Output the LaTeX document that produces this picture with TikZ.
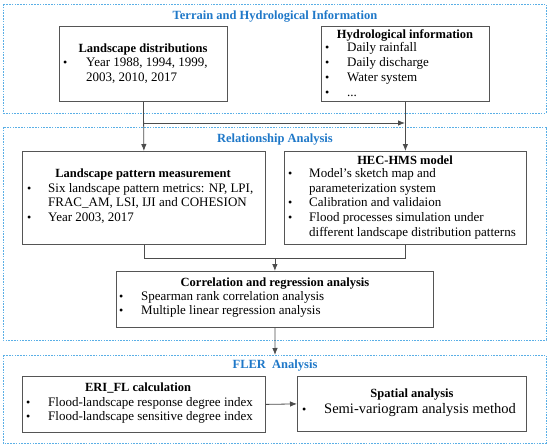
\documentclass[tikz,border=0pt]{standalone}
\usepackage{fontspec}
\setmainfont{Liberation Serif}
\usetikzlibrary{arrows.meta}
\definecolor{dashblue}{HTML}{5AAFE6}
\definecolor{titleblue}{HTML}{1F78C8}
\definecolor{boxgray}{HTML}{555555}
\tikzset{
  group/.style={draw=dashblue, line width=0.7pt, dash pattern=on 1.6pt off 1.2pt},
  grouptitle/.style={text=titleblue, font=\bfseries\fontsize{12.5}{14}\selectfont, inner sep=0pt},
  box/.style={draw=boxgray, line width=0.8pt, fill=white, inner sep=0pt, anchor=north west},
  btitle/.style={font=\bfseries\fontsize{12.5}{14}\selectfont, inner sep=0pt},
  txt/.style={font=\fontsize{13}{15}\selectfont, inner sep=0pt, anchor=mid west},
  bul/.style={font=\fontsize{12}{14}\selectfont, inner sep=0pt, anchor=mid west},
  conn/.style={draw=boxgray!90!black, line width=0.8pt},
  arr/.style={conn, -{Latex[length=7pt,width=5.5pt]}}
}
\begin{document}
\begin{tikzpicture}[x=1pt,y=-1pt]
\useasboundingbox (0,0) rectangle (550,447);
% groups
\draw[group] (3,4) rectangle (546,113);
\draw[group] (3,127) rectangle (546,340);
\draw[group] (3,355) rectangle (546,443);
\node[grouptitle] (ta) at (275,16) {Terrain and Hydrological Information};
\node[grouptitle] (tb) at (275,140) {Relationship Analysis};
\node[grouptitle] (tc) at (275,366) {FLER\ \ Analysis};
% boxes
\node[box, minimum width=168pt, minimum height=75pt] (ld) at (59,26) {};
\node[box, minimum width=168pt, minimum height=75pt] (hy) at (321,26) {};
\node[box, minimum width=243pt, minimum height=93pt] (lp) at (22,151) {};
\node[box, minimum width=242pt, minimum height=93pt] (hec) at (284,151) {};
\node[box, minimum width=317pt, minimum height=56pt] (corr) at (116,271) {};
\node[box, minimum width=243pt, minimum height=56pt] (eri) at (22,376) {};
\node[box, minimum width=229pt, minimum height=55pt] (sp) at (297,376) {};
% texts: landscape distributions
\node[btitle] (ldt) at (143,49) {Landscape distributions};
\node[bul] (ldb1) at (63,64) {\textbullet};
\node[txt] (ld1) at (86,64) {Year 1988, 1994, 1999,};
\node[txt] (ld2) at (86,79) {2003, 2010, 2017};
% hydrological
\node[btitle] (hyt) at (405,35.5) {Hydrological information};
\node[bul] (hyb1) at (325,49.5) {\textbullet};
\node[txt] (hy1) at (347,49.5) {Daily rainfall};
\node[bul] (hyb2) at (325,64) {\textbullet};
\node[txt] (hy2) at (347,64) {Daily discharge};
\node[bul] (hyb3) at (325,79) {\textbullet};
\node[txt] (hy3) at (347,79) {Water system};
\node[bul] (hyb4) at (325,94) {\textbullet};
\node[txt] (hy4) at (347,94) {...};
% landscape pattern
\node[btitle] (lpt) at (143,174) {Landscape pattern measurement};
\node[bul] (lpb1) at (27,190) {\textbullet};
\node[txt] (lp1) at (48,190) {Six landscape pattern metrics: NP, LPI,};
\node[txt] (lp2) at (48,204) {FRAC\_AM, LSI, IJI and COHESION};
\node[bul] (lpb2) at (27,219) {\textbullet};
\node[txt] (lp3) at (48,219) {Year 2003, 2017};
% HEC
\node[btitle] (hect) at (405,160.5) {HEC-HMS model};
\node[bul] (hecb1) at (288,175) {\textbullet};
\node[txt] (hec1) at (309,175) {Model's sketch map and};
\node[txt] (hec2) at (309,190) {parameterization system};
\node[bul] (hecb2) at (288,204) {\textbullet};
\node[txt] (hec3) at (309,204) {Calibration and validaion};
\node[bul] (hecb3) at (288,219) {\textbullet};
\node[txt] (hec4) at (309,219) {Flood processes simulation under};
\node[txt] (hec5) at (309,234) {different landscape distribution patterns};
% correlation
\node[btitle] (corrt) at (275,284) {Correlation and regression analysis};
\node[bul] (corrb1) at (119,298) {\textbullet};
\node[txt] (corr1) at (141,298) {Spearman rank correlation analysis};
\node[bul] (corrb2) at (119,312) {\textbullet};
\node[txt] (corr2) at (141,312) {Multiple linear regression analysis};
% ERI
\node[btitle] (erit) at (138,388) {ERI\_FL calculation};
\node[bul] (erib1) at (26,404) {\textbullet};
\node[txt] (eri1) at (48,404) {Flood-landscape response degree index};
\node[bul] (erib2) at (26,418) {\textbullet};
\node[txt] (eri2) at (48,418) {Flood-landscape sensitive degree index};
% spatial
\node[btitle] (spt) at (412,395) {Spatial analysis};
\node[bul] (spb1) at (302,411.5) {\textbullet};
\node[txt, font=\fontsize{14.5}{16}\selectfont] (sp1) at (324,411.5) {Semi-variogram analysis method};
% connectors
\coordinate (hsplit) at (143,123);
\coordinate (hend) at (405,123);
\draw[arr] (ld.south) -- (lp.north);
\draw[arr] (hy.south) -- (hec.north);
\draw[arr] (hsplit) -- (hend);
\coordinate (ml) at (lp.south |- 0,258);
\coordinate (mr) at (hec.south |- 0,258);
\coordinate (mc) at (corr.north |- 0,258);
\draw[conn] (lp.south) -- (ml) -- (mr) -- (hec.south);
\draw[arr] (mc) -- (corr.north);
\draw[arr] (corr.south) -- (275,355);
\draw[arr] (eri.east) -- (sp.west);
\end{tikzpicture}
\end{document}
